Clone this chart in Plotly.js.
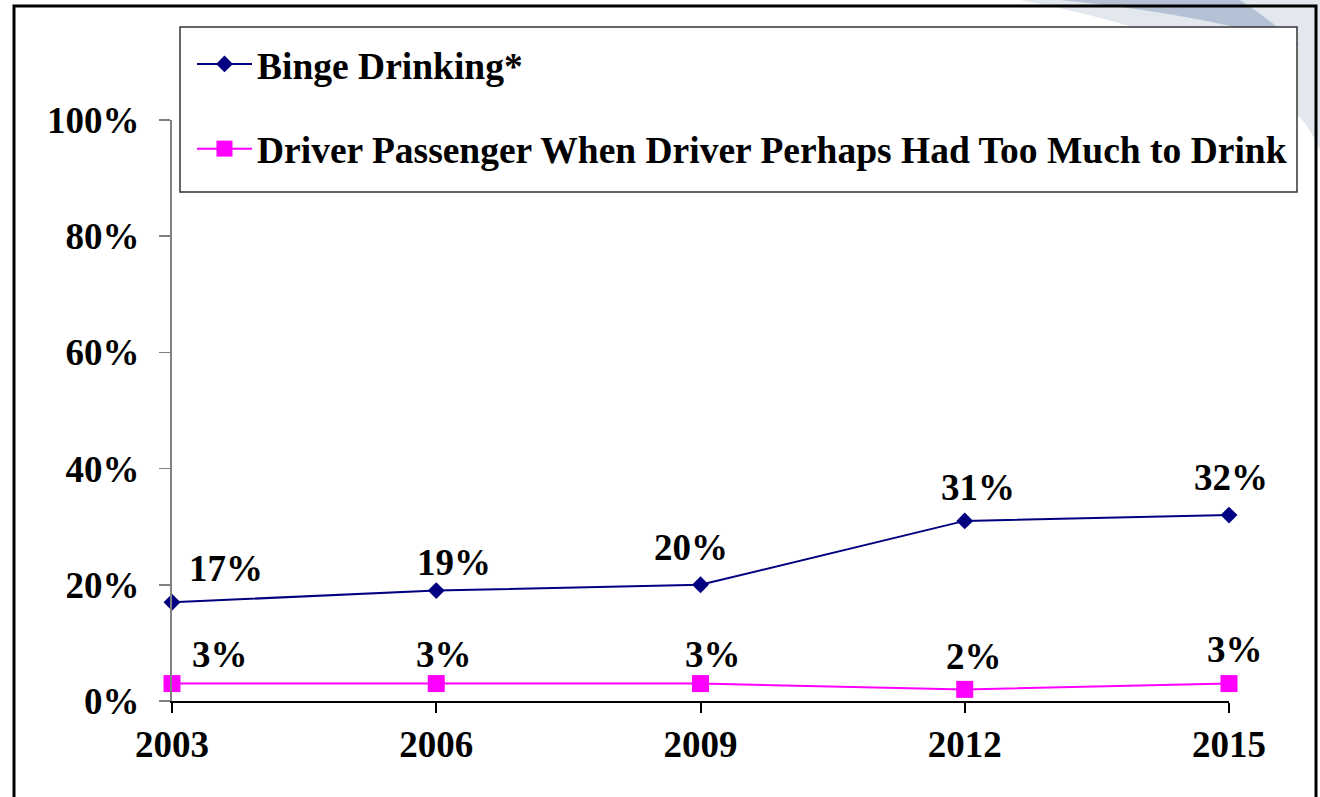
<!DOCTYPE html>
<html>
<head>
<meta charset="utf-8">
<script src="https://cdn.plot.ly/plotly-3.0.1.min.js"></script>
<style>html,body{margin:0;padding:0;background:#fff;}#chart{width:1320px;height:797px;}</style>
</head>
<body>
<div id="chart"></div>
<script>
// ---- data ----
var years = [2003, 2006, 2009, 2012, 2015];
var bingeDrinking = [17, 19, 20, 31, 32];
var riderDrinkingDriver = [3, 3, 3, 2, 3];
var seriesNames = ["Binge Drinking*", "Driver Passenger When Driver Perhaps Had Too Much to Drink"];
var yTickVals = [0, 20, 40, 60, 80, 100];

// ---- layout helpers (pixel -> paper) ----
var W = 1320, H = 797;
var M = {l: 172, r: 91, t: 120, b: 96};
var PW = W - M.l - M.r, PH = H - M.t - M.b;
function px(x){ return (x - M.l) / PW; }
function py(y){ return (H - M.b - y) / PH; }

var FONT = "Liberation Serif, Times New Roman, serif";

// label offsets (style only, pixels)
var bingeOff = [[54,34],[18,28],[-10,37],[13,33],[2,38]];
var riderOff = [[48,29],[8,29],[12,29],[9,33],[6,34]];

var traces = [
  {x: years, y: bingeDrinking, name: seriesNames[0], type: 'scatter', mode: 'lines+markers',
   line: {color: '#000080', width: 2}, marker: {symbol: 'diamond', size: 13, color: '#000080'},
   cliponaxis: false, legendgroup: 'a'},
  {x: years, y: riderDrinkingDriver, name: seriesNames[1], type: 'scatter', mode: 'lines+markers',
   line: {color: '#FF00FF', width: 2}, marker: {symbol: 'square', size: 17, color: '#FF00FF'},
   cliponaxis: false, legendgroup: 'b'}
];

var annotations = [];
function addLabels(vals, offs){
  vals.forEach(function(v, i){
    annotations.push({x: years[i], y: v, xref: 'x', yref: 'y', text: v + '%', showarrow: false,
      xanchor: 'center', yanchor: 'middle', xshift: offs[i][0], yshift: offs[i][1],
      font: {family: FONT, size: 37, color: '#000', weight: 700}});
  });
}
addLabels(bingeDrinking, bingeOff);
addLabels(riderDrinkingDriver, riderOff);

var shapes = [
  // decorative swoosh top-right
  {type: 'path', xref: 'paper', yref: 'paper', layer: 'below',
   path: 'M' + px(1020) + ',' + py(0) + ' L' + px(1320) + ',' + py(0) + ' L' + px(1320) + ',' + py(150) +
         ' Q' + px(1280) + ',' + py(50) + ' ' + px(1020) + ',' + py(0) + ' Z',
   fillcolor: '#e3e8ef', line: {width: 0}},
  {type: 'path', xref: 'paper', yref: 'paper', layer: 'below',
   path: 'M' + px(1060) + ',' + py(0) + ' L' + px(1240) + ',' + py(0) +
         ' Q' + px(1270) + ',' + py(20) + ' ' + px(1300) + ',' + py(45) +
         ' Q' + px(1210) + ',' + py(15) + ' ' + px(1060) + ',' + py(0) + ' Z',
   fillcolor: '#b5c2d5', line: {width: 0}},
  // outer frame
  {type: 'rect', xref: 'paper', yref: 'paper', layer: 'below',
   x0: px(14), x1: px(1316), y0: py(6), y1: py(820),
   line: {color: '#000', width: 3}, fillcolor: 'rgba(0,0,0,0)'},
  // legend box
  {type: 'rect', xref: 'paper', yref: 'paper', layer: 'below',
   x0: px(180), x1: px(1297), y0: py(27), y1: py(192),
   line: {color: '#333', width: 1.5}, fillcolor: '#fff'}
];

var layout = {
  width: W, height: H,
  margin: M,
  paper_bgcolor: 'rgba(0,0,0,0)', plot_bgcolor: 'rgba(0,0,0,0)',
  showlegend: true,
  legend: {x: px(192), y: py(33), xanchor: 'left', yanchor: 'top', bgcolor: 'rgba(0,0,0,0)',
    borderwidth: 0, traceorder: 'grouped', tracegroupgap: 33, itemwidth: 55,
    font: {family: FONT, size: 37.5, color: '#000', weight: 700}},
  font: {family: FONT, size: 37, color: '#000', weight: 700},
  xaxis: {type: 'linear', range: [2003, 2015], tickvals: years, ticktext: years.map(String),
    showgrid: false, zeroline: false, showline: true, linecolor: '#000', linewidth: 2,
    ticks: 'outside', ticklen: 10, tickwidth: 2, tickcolor: '#000', ticklabelstandoff: 0,
    tickfont: {family: FONT, size: 37, color: '#000', weight: 700}},
  yaxis: {range: [0, 100], tickvals: yTickVals, ticktext: yTickVals.map(function(v){return v + '%';}),
    showgrid: false, zeroline: false, showline: true, linecolor: '#808080', linewidth: 2,
    ticks: 'outside', ticklen: 11, tickwidth: 1.5, tickcolor: '#808080', ticklabelstandoff: 12,
    tickfont: {family: FONT, size: 37, color: '#000', weight: 700}},
  shapes: shapes,
  annotations: annotations
};

Plotly.newPlot('chart', traces, layout, {displayModeBar: false, staticPlot: true});
</script>
</body>
</html>
